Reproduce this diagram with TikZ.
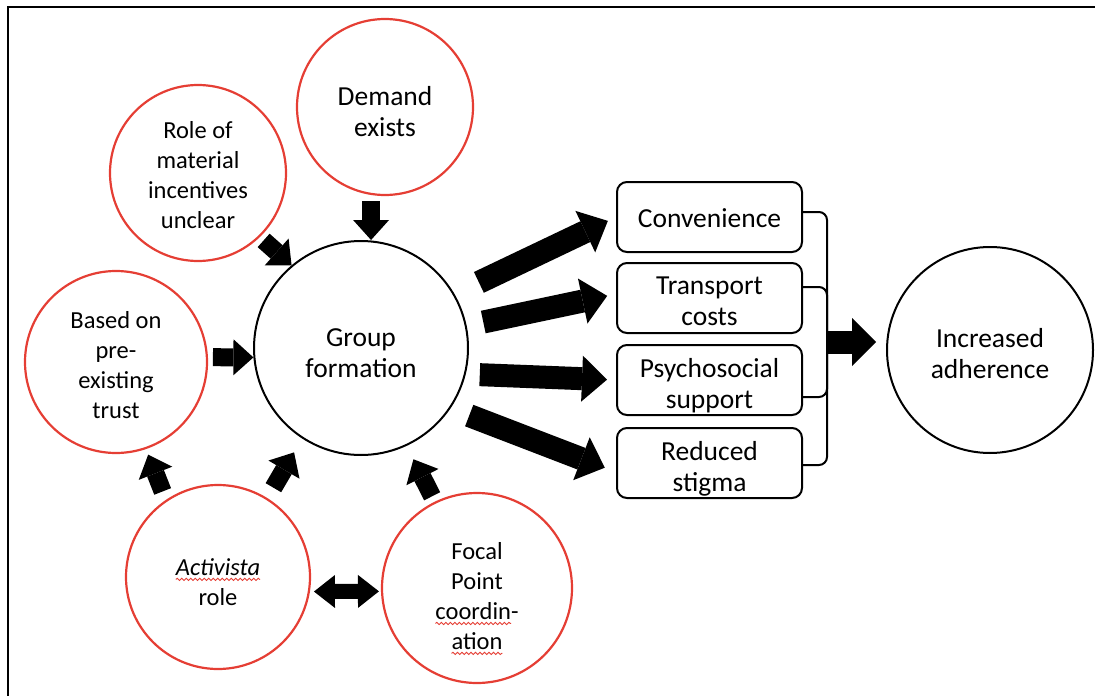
\documentclass[tikz,border=0pt]{standalone}
\usepackage{fontspec}
\setmainfont{Carlito}
\usetikzlibrary{arrows.meta,calc,decorations.pathmorphing}
\definecolor{cred}{RGB}{229,62,52}
\newcommand\wavy[1]{\setbox0\hbox{#1}\makebox[0pt][l]{\tikz[overlay,x=1pt,y=1pt]\draw[cred,line width=0.9pt,decorate,decoration={snake,amplitude=1.1pt,segment length=4.5pt}] (0,-4) -- (\the\wd0,-4);}\box0}
\newcommand\st[1]{\rule{0pt}{#1pt}}
\begin{document}
\begin{tikzpicture}[x=1pt,y=-1pt,
  redc/.style={circle,draw=cred,line width=2.2pt,minimum size=#1,inner sep=0pt,align=center,font=\fontsize{24.5}{30}\selectfont},
  blkc/.style={circle,draw=black,line width=2pt,minimum size=#1,inner sep=0pt,align=center,font=\fontsize{27.5}{31.5}\selectfont},
  bigfont/.style={font=\fontsize{27.5}{31.5}\selectfont},
  boxn/.style={draw,rounded corners=10pt,line width=2pt,minimum width=185pt,minimum height=70pt,align=center,inner sep=0pt,font=\fontsize{27.5}{31.5}\selectfont},
  bigarrow/.style={line width=23pt,-{Triangle[length=25pt,width=46pt,line width=0pt]}},
  smallarrow/.style={line width=18pt,-{Triangle[length=20pt,width=36pt,line width=0pt]}},
  dblarrow/.style={line width=15pt,{Triangle[length=21pt,width=33pt,line width=0pt]}-{Triangle[length=21pt,width=33pt,line width=0pt]}},
  brk/.style={line width=2pt,rounded corners=8pt}
]
\useasboundingbox (0,0) rectangle (1095,696);
\begin{scope}
\clip (0,0) rectangle (1095,696);
\draw[line width=2.5pt] (8,7) rectangle (1300,900);
\end{scope}

% input circles
\node[redc=176] (role) at (198,173) {\st{21.5}Role of\\material\\incentives\\unclear};
\node[redc=176,bigfont] (demand) at (385,107) {\st{28}Demand\\exists};
\node[redc=182] (based) at (116,362) {\st{24}Based on\\pre-\\existing\\trust};
\node[redc=184] (activista) at (218,577) {\st{27}\wavy{\textit{Activista}}\\role};
\node[redc=190] (focal) at (477,588) {\st{33}Focal\\Point\\\wavy{coordin}-\\\wavy{ation}};

% central and outcome
\node[blkc=214] (group) at (361,348) {\st{28}Group\\formation};
\node[blkc=206] (adh) at (990,350) {\st{26.5}Increased\\adherence};

% boxes
\node[boxn] (b1) at (709.5,217) {\st{22}Convenience};
\node[boxn] (b2) at (709.5,298) {\st{24}Transport\\costs};
\node[boxn] (b3) at (709.5,380) {\st{30}Psychosocial\\support};
\node[boxn] (b4) at (709.5,463) {\st{31}Reduced\\stigma};

% bracket
\coordinate (br) at (827,342);
\draw[brk] ($(b1.east)+(0,-5)$) -| (br);
\draw[brk] ($(b2.east)+(0,-11)$) -| (br);
\draw[brk] ($(b3.east)+(0,17)$) -| (br);
\draw[brk] ($(b4.east)+(0,2)$) -| (br);
\draw[line width=23pt,-{Triangle[length=24pt,width=48pt,line width=0pt]},shorten >=10pt] (br) -- (br -| adh.west);

% group to boxes
\draw[bigarrow,shorten <=27pt,shorten >=9pt] (group.30) -- (b1.west);
\draw[bigarrow,shorten <=17pt,shorten >=9pt] (group.12) -- ($(b2.west)+(0,-4)$);
\draw[bigarrow,shorten <=14pt,shorten >=9pt] (group.-14) -- (b3.west);
\draw[bigarrow,shorten <=20pt,shorten >=12pt] (group.-34) -- ($(b4.west)+(0,9)$);

% inputs to group
\draw[smallarrow,shorten <=6pt] (demand.-99) -- (demand.-99 |- group.north);
\draw[smallarrow,shorten <=5pt] (role.-46) -- (group.130);
\draw[smallarrow,shorten <=5pt] (based.3) -- (group.185);
\draw[smallarrow,shorten <=12pt,shorten >=16pt] (activista.58) -- (group.237);
\draw[smallarrow,shorten <=9pt,shorten >=6pt] (activista.124) -- (based.-71);
\draw[smallarrow,shorten <=6pt,shorten >=15pt] (focal.116) -- (group.-65);
\draw[dblarrow,shorten <=4pt,shorten >=2pt] (activista.-9) -- (focal.182);
\end{tikzpicture}
\end{document}
